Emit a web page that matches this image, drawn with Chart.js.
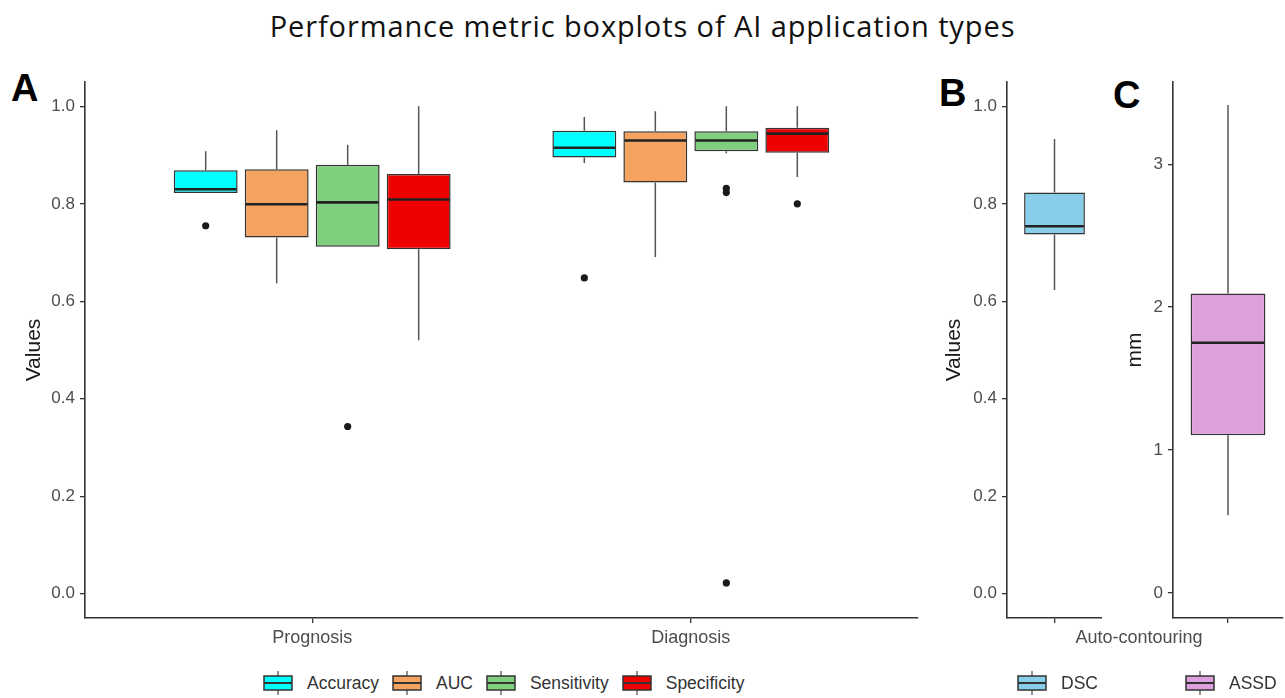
<!DOCTYPE html>
<html>
<head>
<meta charset="utf-8">
<script src="https://cdn.jsdelivr.net/npm/chart.js@4.4.1/dist/chart.umd.min.js"></script>
<style>
  html, body { margin: 0; padding: 0; background: #fff; }
  body { width: 1285px; height: 698px; position: relative; overflow: hidden; font-family: "Liberation Sans", Arial, sans-serif; }
  canvas.panel { position: absolute; top: 0; }
  #title { position: absolute; left: 0; top: 6px; width: 1285px; text-align: center; font-family: "Open Sans", sans-serif; font-size: 29px; letter-spacing: 0.9px; line-height: 40px; color: #111; }
  .tag { position: absolute; font-weight: bold; font-size: 38px; line-height: 38px; color: #000; }
  #autoLabel { position: absolute; left: 1039px; top: 627px; width: 200px; text-align: center; font-size: 18px; line-height: 20px; color: #4D4D4D; }
  .legend { position: absolute; top: 671px; display: flex; align-items: center; font-size: 17.5px; color: #333; }
  .legend .item { display: flex; align-items: center; margin-right: 13px; }
  .legend canvas { margin-right: 14px; }
</style>
</head>
<body>
<div id="title">Performance metric boxplots of AI application types</div>
<div class="tag" style="left:11px; top:69px;">A</div>
<div class="tag" style="left:939px; top:74px;">B</div>
<div class="tag" style="left:1113px; top:76px;">C</div>

<canvas id="chartA" class="panel" width="930" height="660" style="left:0;"></canvas>
<canvas id="chartB" class="panel" width="182" height="660" style="left:920px;"></canvas>
<canvas id="chartC" class="panel" width="175" height="660" style="left:1110px;"></canvas>
<div id="autoLabel">Auto-contouring</div>

<div class="legend" id="legendA" style="left:263px;"></div>
<div class="legend" id="legendB" style="left:1017px;"></div>
<div class="legend" id="legendC" style="left:1185px;"></div>

<script>
// categories
const groups = ['Prognosis', 'Diagnosis'];
const metrics = ['Accuracy', 'AUC', 'Sensitivity', 'Specificity'];
const metricColors = ['#00FFFF', '#F4A460', '#7FCF7F', '#EE0000'];

// [lower whisker, q1, median, q3, upper whisker] for Prognosis, Diagnosis
const accuracyBoxes = [[0.822, 0.822, 0.830, 0.869, 0.908], [0.884, 0.895, 0.915, 0.950, 0.978]];
const aucBoxes = [[0.637, 0.731, 0.799, 0.871, 0.951], [0.691, 0.844, 0.930, 0.949, 0.990]];
const sensitivityBoxes = [[0.712, 0.712, 0.803, 0.880, 0.921], [0.904, 0.908, 0.930, 0.949, 1.000]];
const specificityBoxes = [[0.520, 0.707, 0.809, 0.861, 1.000], [0.855, 0.905, 0.944, 0.956, 1.000]];

// outliers
const accuracyOutliers = [[0.755], [0.648]];
const aucOutliers = [[], []];
const sensitivityOutliers = [[0.343], [0.832, 0.823, 0.022]];
const specificityOutliers = [[], [0.800]];

// auto-contouring
const contourGroups = [''];
const dscBox = [[0.623, 0.737, 0.754, 0.823, 0.933]];
const assdBox = [[0.544, 1.104, 1.751, 2.096, 3.414]];

// tick labels
const valueTicks = [0, 0.2, 0.4, 0.6, 0.8, 1.0];
const mmTicks = [0, 1, 2, 3];

Chart.defaults.font.family = '"Liberation Sans", Arial, sans-serif';

function boxDataset(label, color, boxes, outliers) {
    return {
        label: label,
        backgroundColor: color,
        borderColor: '#333',
        borderWidth: 1.5,
        borderSkipped: false,
        data: boxes.map((b, i) => ({ x: i + 1, y: [b[1], b[3]] })),
        stats: boxes,
        outliers: outliers
    };
}

// whiskers, medians and outlier dots on top of the floating bars
const boxExtras = {
    id: 'boxExtras',
    afterDatasetsDraw(chart) {
        const ctx = chart.ctx;
        const y = chart.scales.y;
        chart.data.datasets.forEach((ds, di) => {
            const meta = chart.getDatasetMeta(di);
            meta.data.forEach((bar, i) => {
                const [lo, q1, med, q3, hi] = ds.stats[i];
                const { x, width } = bar.getProps(['x', 'width'], true);
                ctx.save();
                ctx.strokeStyle = '#555';
                ctx.lineWidth = 1.5;
                ctx.beginPath();
                ctx.moveTo(x, y.getPixelForValue(q3));
                ctx.lineTo(x, y.getPixelForValue(hi));
                ctx.moveTo(x, y.getPixelForValue(q1));
                ctx.lineTo(x, y.getPixelForValue(lo));
                ctx.stroke();

                const ym = y.getPixelForValue(med);
                ctx.strokeStyle = '#222';
                ctx.lineWidth = 2.6;
                ctx.beginPath();
                ctx.moveTo(x - width / 2 + 1, ym);
                ctx.lineTo(x + width / 2 - 1, ym);
                ctx.stroke();

                ctx.fillStyle = '#1a1a1a';
                (ds.outliers[i] || []).forEach(v => {
                    ctx.beginPath();
                    ctx.arc(x, y.getPixelForValue(v), 3.6, 0, Math.PI * 2);
                    ctx.fill();
                });
                ctx.restore();
            });
        });
    }
};

function makePanel(id, datasets, o) {
    return new Chart(document.getElementById(id), {
        type: 'bar',
        data: { datasets: datasets },
        options: {
            responsive: false,
            animation: false,
            layout: { padding: { top: 82, right: o.padRight, left: 0, bottom: 0 } },
            datasets: { bar: { categoryPercentage: o.catPct, barPercentage: o.barPct } },
            plugins: { legend: { display: false }, tooltip: { enabled: false } },
            scales: {
                x: {
                    type: 'linear',
                    min: o.xMin,
                    max: o.xMax,
                    offset: false,
                    afterBuildTicks: s => { s.ticks = o.xLabels.map((l, i) => ({ value: i + 1 })); },
                    afterFit: s => { s.height = 42; },
                    grid: { display: true, offset: false, drawOnChartArea: false, drawTicks: true, tickLength: 5, color: '#333', lineWidth: 1.3 },
                    border: { display: true, color: '#333', width: 1.6 },
                    ticks: {
                        callback: (v, i) => o.xLabels[i],
                        color: '#4D4D4D', font: { size: 18 }, padding: 4,
                        maxRotation: 0, autoSkip: false
                    }
                },
                y: {
                    min: o.yMin,
                    max: o.yMax,
                    afterBuildTicks: s => { s.ticks = o.yTicks.map(v => ({ value: v })); },
                    afterFit: s => { s.width = o.yWidth; },
                    grid: { display: true, drawOnChartArea: false, drawTicks: true, tickLength: 5, color: '#333', lineWidth: 1.3 },
                    border: { display: true, color: '#333', width: 1.6 },
                    ticks: { callback: o.yFormat, color: '#4D4D4D', font: { size: 17 }, padding: 5 },
                    title: {
                        display: true, text: o.yTitle, color: '#1a1a1a',
                        font: { size: 21 }, padding: { top: o.titlePad, bottom: 0 }
                    }
                }
            }
        },
        plugins: [boxExtras]
    });
}

// panel A
makePanel('chartA', [
    boxDataset('Accuracy', metricColors[0], accuracyBoxes, accuracyOutliers),
    boxDataset('AUC', metricColors[1], aucBoxes, aucOutliers),
    boxDataset('Sensitivity', metricColors[2], sensitivityBoxes, sensitivityOutliers),
    boxDataset('Specificity', metricColors[3], specificityBoxes, specificityOutliers)
], {
    xLabels: groups, xMin: 0.4, xMax: 2.6, catPct: 0.75, barPct: 0.9, padRight: 12,
    yMin: -0.05, yMax: 1.05, yTicks: valueTicks, yFormat: v => v.toFixed(1),
    yWidth: 85, yTitle: 'Values', titlePad: 22
});

// panel B
makePanel('chartB', [boxDataset('DSC', '#87CEEB', dscBox, [[]])], {
    xLabels: contourGroups, xMin: 0.4, xMax: 1.6, catPct: 1, barPct: 0.64, padRight: 0,
    yMin: -0.05, yMax: 1.05, yTicks: valueTicks, yFormat: v => v.toFixed(1),
    yWidth: 87, yTitle: 'Values', titlePad: 22
});

// panel C
makePanel('chartC', [boxDataset('ASSD', '#DDA0DD', assdBox, [[]])], {
    xLabels: contourGroups, xMin: 0.4, xMax: 1.6, catPct: 1, barPct: 0.68, padRight: 2,
    yMin: -0.175, yMax: 3.575, yTicks: mmTicks, yFormat: v => String(v),
    yWidth: 63, yTitle: 'mm', titlePad: 13
});

// legends with boxplot keys
function drawKey(canvas, color) {
    const c = canvas.getContext('2d');
    c.strokeStyle = '#555';
    c.lineWidth = 1.3;
    c.beginPath();
    c.moveTo(15, 0);
    c.lineTo(15, 24);
    c.stroke();
    c.fillStyle = color;
    c.fillRect(1, 5, 28, 14);
    c.strokeStyle = '#333';
    c.lineWidth = 1.5;
    c.strokeRect(1, 5, 28, 14);
    c.lineWidth = 2;
    c.beginPath();
    c.moveTo(1, 12);
    c.lineTo(29, 12);
    c.stroke();
}

function buildLegend(id, labels, colors) {
    const box = document.getElementById(id);
    labels.forEach((label, i) => {
        const item = document.createElement('div');
        item.className = 'item';
        const key = document.createElement('canvas');
        key.width = 30;
        key.height = 24;
        drawKey(key, colors[i]);
        const text = document.createElement('span');
        text.textContent = label;
        item.appendChild(key);
        item.appendChild(text);
        box.appendChild(item);
    });
}

buildLegend('legendA', metrics, metricColors);
buildLegend('legendB', ['DSC'], ['#87CEEB']);
buildLegend('legendC', ['ASSD'], ['#DDA0DD']);
</script>
</body>
</html>
